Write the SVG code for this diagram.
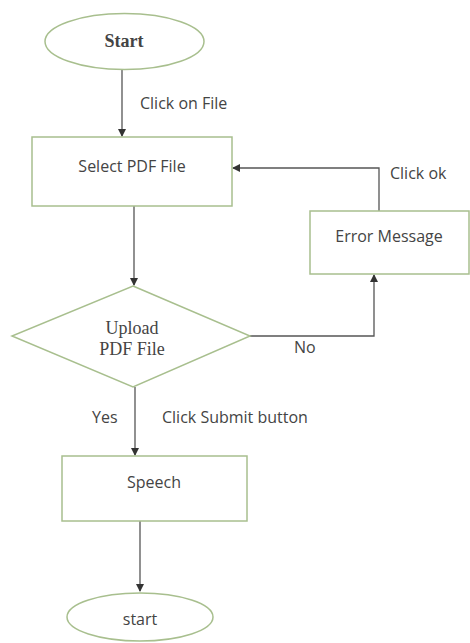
<svg xmlns="http://www.w3.org/2000/svg" width="470" height="643" viewBox="0 0 470 643">
<defs>
<style>
.shape{fill:#fff;stroke:#a8bf8e;stroke-width:1.5}
.line{fill:none;stroke:#555;stroke-width:1.3}
.t{font-family:"Open Sans","Liberation Sans",sans-serif;font-size:16px;fill:#444;text-anchor:middle;dominant-baseline:central}
.l{font-family:"Open Sans","Liberation Sans",sans-serif;font-size:16px;fill:#444;dominant-baseline:central}
.s{font-family:"Liberation Serif",serif;font-size:18px;fill:#444;text-anchor:middle;dominant-baseline:central}
</style>
<marker id="arr" markerWidth="8" markerHeight="8" refX="7" refY="4" orient="auto" markerUnits="userSpaceOnUse">
<path d="M0,0 L8,4 L0,8 z" fill="#333"/>
</marker>
</defs>
<rect width="470" height="643" fill="#fff"/>
<g id="connectors">
<line class="line" x1="122" y1="70" x2="122" y2="136" marker-end="url(#arr)"/>
<text class="l" x="140" y="103">Click on File</text>
<polyline class="line" points="379,211 379,168 233,168" marker-end="url(#arr)"/>
<text class="l" x="390" y="173">Click ok</text>
<line class="line" x1="134" y1="206" x2="134" y2="285" marker-end="url(#arr)"/>
<polyline class="line" points="250,336 374,336 374,275" marker-end="url(#arr)"/>
<text class="l" x="294" y="347">No</text>
<line class="line" x1="135" y1="387" x2="135" y2="455" marker-end="url(#arr)"/>
<text class="l" x="92" y="417">Yes</text>
<text class="l" x="162" y="417">Click Submit button</text>
<line class="line" x1="140" y1="521" x2="140" y2="591" marker-end="url(#arr)"/>
</g>
<g id="start">
<ellipse class="shape" cx="124.5" cy="41.5" rx="79.5" ry="28"/>
<text class="s" x="124" y="41" font-weight="bold" font-size="14">Start</text>
</g>
<g id="select">
<rect class="shape" x="32" y="137" width="200" height="69"/>
<text class="t" x="132" y="166">Select PDF File</text>
</g>
<g id="error">
<rect class="shape" x="310" y="211" width="159" height="63"/>
<text class="t" x="389" y="236">Error Message</text>
</g>
<g id="upload">
<polygon class="shape" points="133,286 250,336 133,387 12,336"/>
<text class="s" x="132" y="328">Upload</text>
<text class="s" x="132" y="349">PDF File</text>
</g>
<g id="speech">
<rect class="shape" x="62" y="456" width="185" height="65"/>
<text class="t" x="154" y="482">Speech</text>
</g>
<g id="end">
<ellipse class="shape" cx="140" cy="617" rx="73" ry="24"/>
<text class="t" x="140" y="619" font-size="15">start</text>
</g>
</svg>
